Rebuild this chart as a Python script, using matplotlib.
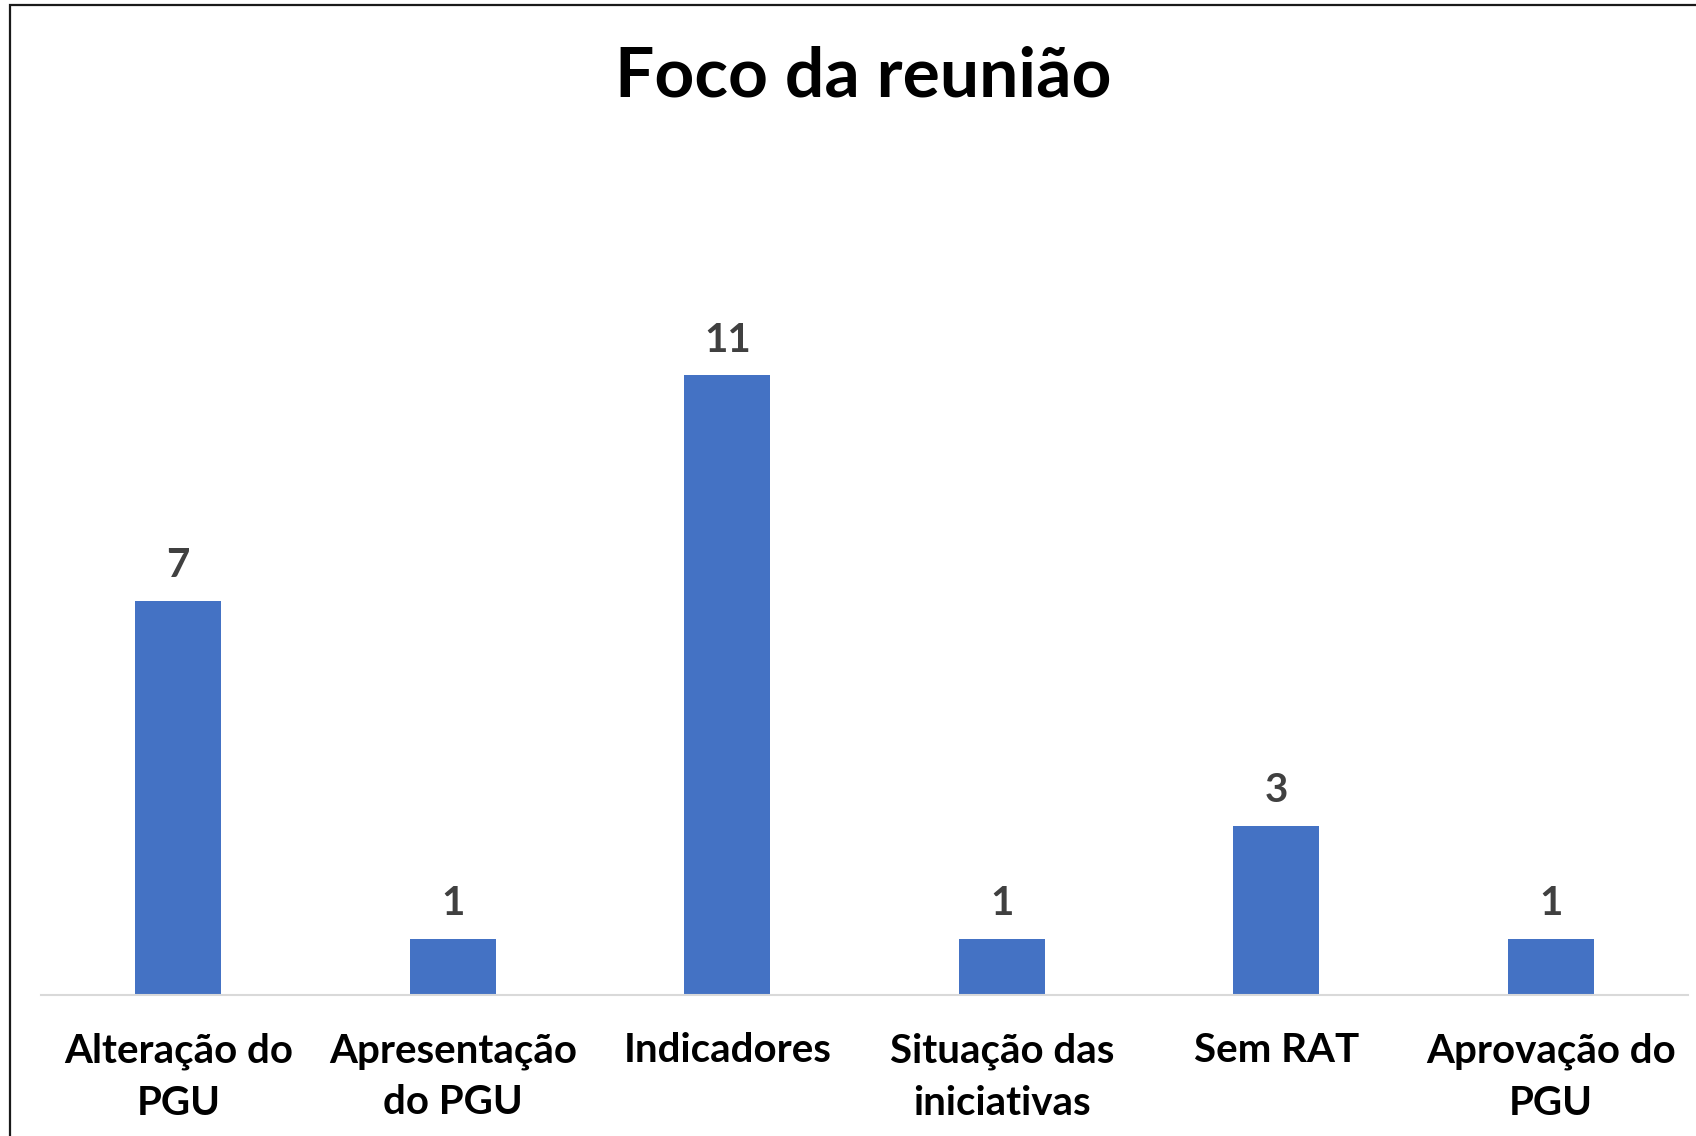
import matplotlib
matplotlib.use("Agg")
import matplotlib.pyplot as plt
from matplotlib.patches import Rectangle

categories = ["Alteração do\nPGU", "Apresentação\ndo PGU", "Indicadores",
              "Situação das\niniciativas", "Sem RAT", "Aprovação do\nPGU"]
values = [7, 1, 11, 1, 3, 1]
title = "Foco da reunião"

W, H = 1696, 1136
fig = plt.figure(figsize=(W / 100, H / 100), dpi=100)
plt.rcParams['font.family'] = ['Lato', 'DejaVu Sans']

# outer frame (left and top visible)
fig.patches.append(Rectangle((10 / W, -0.05), 1.2, 1 - 5 / H + 0.05, transform=fig.transFigure,
                             fill=False, edgecolor='#1a1a1a', linewidth=1.6, zorder=0))

ax = fig.add_axes([41 / W, 141 / H, (1688 - 41) / W, (995 - 319) / H])
x = range(len(categories))
bars = ax.bar(x, values, width=0.313, color='#4472C4', zorder=2)
ax.set_xlim(-0.5, len(categories) - 0.5)
ax.set_ylim(0, 12)

for s in ['top', 'right', 'left']:
    ax.spines[s].set_visible(False)
ax.spines['bottom'].set_color('#D9D9D9')
ax.spines['bottom'].set_linewidth(1.5)
ax.set_yticks([])
ax.set_xticks(list(x))
ax.set_xticklabels(categories, fontsize=29, fontweight='bold', color='black', linespacing=1.5)
ax.tick_params(axis='x', length=0, pad=27)

for xi, v in zip(x, values):
    ax.annotate(str(v), (xi, v), xytext=(0, 12), textcoords='offset points',
                ha='center', va='bottom', fontsize=29, fontweight='bold', color='#404040')

fig.text(863 / W, 1 - 77 / H, title, ha='center', va='center', fontsize=50,
         fontweight='bold', color='black')

fig.savefig('out.png', dpi=100, facecolor='white')
